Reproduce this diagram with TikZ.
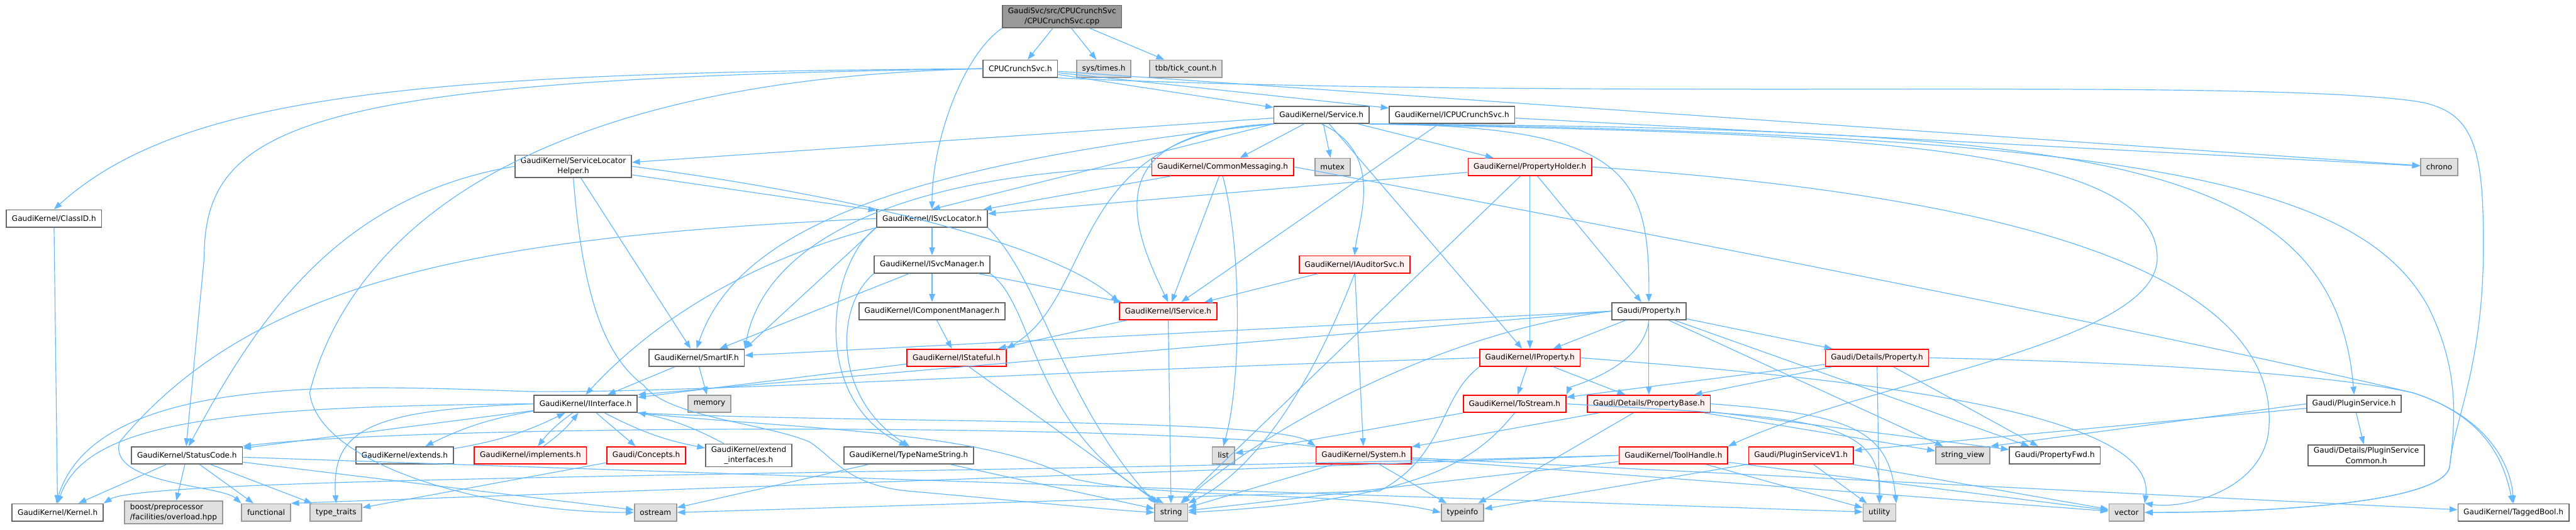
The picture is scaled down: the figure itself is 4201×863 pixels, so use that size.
\documentclass[tikz,border=0pt]{standalone}
\usepackage{fontspec}
\usepackage{xcolor}
\usepackage{tikz}
\usetikzlibrary{arrows.meta}

\newfontfamily\gfont{DejaVu Sans}

\definecolor{inclblue}{HTML}{63B8FF}
\definecolor{rootfill}{HTML}{999999}
\definecolor{darkframe}{HTML}{666666}
\definecolor{extfill}{HTML}{E0E0E0}
\definecolor{extframe}{HTML}{999999}
\definecolor{redfill}{HTML}{FFF0F0}

\tikzset{
  filebox/.style={draw=darkframe, fill=white, line width=0.9pt, minimum height=14pt,
    inner xsep=4.5pt, inner ysep=2pt, align=center, font={\gfont\fontsize{6.2}{8.3}\selectfont}},
  extbox/.style={filebox, draw=extframe, fill=extfill},
  redbox/.style={filebox, draw=red, fill=redfill},
  rootbox/.style={filebox, fill=rootfill},
  incl/.style={draw=inclblue, line width=0.6pt, -{Triangle[length=6.5pt,width=4.8pt]}}
}

\begin{document}
\begin{tikzpicture}[x=0.5pt, y=0.5pt]
  % Canvas
  \fill[white] (0,0) rectangle (4201,-863);
  \useasboundingbox (0,0) rectangle (4201,-863);

  % Source file and first level
  \node[rootbox] (cpp) at (1732,-27) {GaudiSvc/src/CPUCrunchSvc\\/CPUCrunchSvc.cpp};
  \node[filebox] (crunchh) at (1664,-112) {CPUCrunchSvc.h};
  \node[extbox] (times) at (1800,-112) {sys/times.h};
  \node[extbox] (tick) at (1934,-112) {tbb/tick\_count.h};
  \node[filebox] (service) at (2155,-187) {GaudiKernel/Service.h};
  \node[filebox] (icrunch) at (2368,-187) {GaudiKernel/ICPUCrunchSvc.h};

  % Service level
  \node[filebox] (slh) at (935,-271) {GaudiKernel/ServiceLocator\\Helper.h};
  \node[redbox] (common) at (1994,-272) {GaudiKernel/CommonMessaging.h};
  \node[extbox] (mutex) at (2173,-272) {mutex};
  \node[redbox] (pholder) at (2495,-272) {GaudiKernel/PropertyHolder.h};
  \node[extbox] (chrono) at (3978,-272) {chrono};
  \node[filebox] (classid) at (88,-356) {GaudiKernel/ClassID.h};
  \node[filebox] (isvcloc) at (1520,-356) {GaudiKernel/ISvcLocator.h};
  \node[filebox] (isvcmgr) at (1520,-431) {GaudiKernel/ISvcManager.h};
  \node[redbox] (iauditor) at (2209,-431) {GaudiKernel/IAuditorSvc.h};
  \node[filebox] (icompmgr) at (1520,-507) {GaudiKernel/IComponentManager.h};
  \node[redbox] (iservice) at (1905,-507) {GaudiKernel/IService.h};
  \node[filebox] (property) at (2689,-507) {Gaudi/Property.h};

  % Interface level
  \node[filebox] (smartif) at (1136,-583) {GaudiKernel/SmartIF.h};
  \node[redbox] (istateful) at (1560,-583) {GaudiKernel/IStateful.h};
  \node[redbox] (iproperty) at (2495,-583) {GaudiKernel/IProperty.h};
  \node[redbox] (detprop) at (3061,-583) {Gaudi/Details/Property.h};
  \node[filebox] (iinterface) at (955,-658) {GaudiKernel/IInterface.h};
  \node[extbox] (memory) at (1157,-658) {memory};
  \node[redbox] (tostream) at (2470,-658) {GaudiKernel/ToStream.h};
  \node[redbox] (propbase) at (2689,-658) {Gaudi/Details/PropertyBase.h};
  \node[filebox] (pluginsvc) at (3839,-658) {Gaudi/PluginService.h};

  % Lower level
  \node[filebox] (statuscode) at (305,-742) {GaudiKernel/StatusCode.h};
  \node[filebox] (extends) at (660,-742) {GaudiKernel/extends.h};
  \node[redbox] (implements) at (865,-742) {GaudiKernel/implements.h};
  \node[redbox] (concepts) at (1054,-742) {Gaudi/Concepts.h};
  \node[filebox] (extendif) at (1221,-742) {GaudiKernel/extend\\\_interfaces.h};
  \node[filebox] (typename) at (1482,-742) {GaudiKernel/TypeNameString.h};
  \node[extbox] (list) at (1995,-742) {list};
  \node[redbox] (system) at (2224,-742) {GaudiKernel/System.h};
  \node[redbox] (toolhandle) at (2729,-742) {GaudiKernel/ToolHandle.h};
  \node[redbox] (pluginv1) at (2937,-742) {Gaudi/PluginServiceV1.h};
  \node[extbox] (stringview) at (3201,-742) {string\_view};
  \node[filebox] (propfwd) at (3351,-742) {Gaudi/PropertyFwd.h};
  \node[filebox] (plugincommon) at (3859,-742) {Gaudi/Details/PluginService\\Common.h};

  % Leaves
  \node[filebox] (kernel) at (94,-835) {GaudiKernel/Kernel.h};
  \node[extbox, align=left] (boost) at (283,-835) {boost/preprocessor\\/facilities/overload.hpp};
  \node[extbox] (functional) at (434,-835) {functional};
  \node[extbox] (typetraits) at (548,-835) {type\_traits};
  \node[extbox] (ostream) at (1069,-835) {ostream};
  \node[extbox] (string) at (1910,-835) {string};
  \node[extbox] (typeinfo) at (2385,-835) {typeinfo};
  \node[extbox] (utility) at (3065,-835) {utility};
  \node[extbox] (vector) at (3468,-835) {vector};
  \node[filebox] (taggedbool) at (4099,-835) {GaudiKernel/TaggedBool.h};

  % Straight includes
  \foreach \a/\b in {cpp/crunchh, cpp/times, cpp/tick,
      crunchh/service, crunchh/icrunch, crunchh/chrono, icrunch/iservice, icrunch/chrono,
      service/common, service/mutex, service/pholder, service/iproperty, service/slh,
      service.south west/isvcloc.north, slh/isvcloc, slh/smartif, common/isvcloc, common/iservice,
      pholder/iproperty, pholder/property, pholder/isvcloc, pholder/string,
      isvcloc/isvcmgr, isvcloc.south west/smartif.north east,
      isvcmgr/icompmgr, isvcmgr/iservice, isvcmgr/smartif, iauditor/iservice, iauditor/system,
      icompmgr/istateful, iservice/istateful, iservice/string, istateful/iinterface, istateful/string,
      smartif/iinterface, smartif/memory,
      property.west/smartif, property.west/iinterface.north east, property/iproperty, property/detprop,
      property/propbase, property/propfwd, property/stringview,
      iproperty/tostream, iproperty/propbase,
      detprop/tostream, detprop/propbase, detprop/propfwd, detprop/utility, tostream/list,
      propbase/system, propbase/typeinfo, propbase/stringview, propbase/propfwd,
      toolhandle/utility, toolhandle/string, toolhandle/vector, toolhandle.west/functional.north east,
      pluginv1/typeinfo, pluginv1/utility, pluginv1/vector,
      pluginsvc/pluginv1, pluginsvc/plugincommon, pluginsvc.west/stringview.north east,
      system/string, system/typeinfo, system/vector, system/taggedbool,
      statuscode/kernel, statuscode/boost, statuscode/functional, statuscode/typetraits,
      statuscode/ostream, statuscode/utility,
      iinterface/statuscode, iinterface/concepts, concepts/typetraits,
      typename/ostream, typename/string, classid/kernel} {
    \draw[incl] (\a) -- (\b);
  }

  % Mutual includes round IInterface
  \foreach \b in {extends, implements, extendif} {
    \draw[incl] (iinterface) to[bend right=8] (\b);
    \draw[incl] (\b) to[bend right=8] (iinterface);
  }

  % Curved includes, top part
  \draw[incl] (cpp.south west) .. controls (1570,-90) and (1520,-230) .. (isvcloc.north);
  \draw[incl] (crunchh.west) .. controls (700,-118) and (300,-150) .. (classid.north);
  \draw[incl] (crunchh.west) .. controls (500,-128) and (333,-200) .. (333,-420) -- (statuscode.95);
  \draw[incl] (crunchh.west) .. controls (800,-130) and (560,-420) .. (505,-640)
    .. controls (520,-760) and (800,-835) .. (ostream.west);
  \draw[incl] (crunchh.south east) .. controls (2600,-165) and (3650,-125) .. (3940,-165)
    .. controls (4035,-180) and (4050,-240) .. (4050,-400)
    .. controls (4050,-600) and (4000,-690) .. (3995,-760)
    .. controls (3985,-820) and (3700,-835) .. (vector.east);
  \draw[incl] (service.south east) .. controls (3500,-218) and (3850,-300) .. (3960,-500)
    .. controls (4010,-600) and (4005,-680) .. (3995,-760)
    .. controls (3985,-820) and (3700,-835) .. (vector.east);
  \draw[incl] (service.south east) .. controls (3400,-210) and (3806,-250) .. (pluginsvc.north);
  \draw[incl] (service.south east) .. controls (2900,-218) and (3518,-220) .. (3518,-420)
    .. controls (3518,-560) and (3050,-620) .. (toolhandle.north east);
  \draw[incl] (service.south east) .. controls (2650,-205) and (2690,-280) .. (property.north);
  \draw[incl] (service.south) .. controls (2260,-250) and (2215,-360) .. (iauditor.north);
  \draw[incl] (service.south west) .. controls (1800,-215) and (1835,-350) .. (iservice.north);
  \draw[incl] (service.south west) .. controls (1740,-215) and (1790,-480) .. (istateful.north east);
  \draw[incl] (service.south west) .. controls (1450,-270) and (1200,-380) .. (smartif.north);

  % Curved includes, middle part
  \draw[incl] (slh.east) .. controls (1400,-320) and (1720,-400) .. (iservice.north west);
  \draw[incl] (slh.west) .. controls (550,-320) and (420,-520) .. (statuscode.80);
  \draw[incl] (slh.south) .. controls (950,-480) and (985,-580) .. (1050,-628)
    .. controls (1090,-680) and (1250,-690) .. (1320,-720)
    .. controls (1360,-745) and (1380,-790) .. (1480,-800)
    .. controls (1650,-815) and (1800,-830) .. (string.west);
  \draw[incl] (common.west) .. controls (1500,-280) and (1250,-380) .. (smartif.north east);
  \draw[incl] (common.south) .. controls (2025,-400) and (2025,-620) .. (list.north);
  \draw[incl] (common.east) .. controls (2800,-400) and (3600,-560) .. (3935,-640)
    .. controls (4060,-680) and (4095,-760) .. (taggedbool.north);
  \draw[incl] (detprop.east) .. controls (3500,-590) and (3800,-610) .. (3935,-640)
    .. controls (4060,-680) and (4085,-760) .. (taggedbool.95);
  \draw[incl] (pholder.east) .. controls (3300,-320) and (3720,-450) .. (3700,-700)
    .. controls (3690,-800) and (3560,-830) .. (vector.north east);
  \draw[incl] (isvcloc.south west) .. controls (1200,-430) and (1050,-540) .. (iinterface.north);
  \draw[incl] (isvcloc.south west) .. controls (1350,-430) and (1320,-650) .. (typename.100);
  \draw[incl] (isvcmgr.south west) .. controls (1360,-500) and (1360,-650) .. (typename.85);
  \draw[incl] (isvcloc.south east) .. controls (1700,-460) and (1730,-650) .. (string.150);
  \draw[incl] (isvcmgr.south east) .. controls (1690,-500) and (1680,-700) .. (string.130);
  \draw[incl] (isvcloc.west) .. controls (800,-385) and (420,-450) .. (195,-720)
    .. controls (175,-790) and (360,-790) .. (functional.north west);
  \draw[incl] (iauditor.south) .. controls (2150,-600) and (2060,-760) .. (string.north east);
  \draw[incl] (property.west) .. controls (2350,-540) and (2060,-700) .. (string.40);
  \draw[incl] (property.south) .. controls (2680,-600) and (2560,-630) .. (tostream.north east);

  % Curved includes, lower part
  \draw[incl] (iproperty.south west) .. controls (2345,-650) and (2360,-740) .. (2250,-800)
    -- (ostream.east);
  \draw[incl] (iproperty.east) .. controls (2950,-612) and (3520,-660) .. (vector.north east);
  \draw[incl] (iproperty.west) .. controls (1700,-605) and (1150,-640) .. (870,-638)
    .. controls (600,-630) and (160,-600) .. (kernel.100);
  \draw[incl] (tostream.south) .. controls (2400,-760) and (2300,-815) .. (string.east);
  \draw[incl] (tostream.east) .. controls (2950,-680) and (3070,-680) .. (utility.north);
  \draw[incl] (propbase.east) .. controls (3020,-675) and (3080,-700) .. (utility.north east);
  \draw[incl] (toolhandle.west) .. controls (1500,-775) and (240,-775) .. (kernel.north east);
  \draw[incl] (system.170) .. controls (1900,-690) and (700,-690) .. (statuscode.north east);
  \draw[incl] (iinterface.west) .. controls (350,-662) and (140,-690) .. (kernel.north);
  \draw[incl] (iinterface.west) .. controls (600,-668) and (540,-700) .. (typetraits.north);
  \draw[incl] (iinterface.south east) .. controls (1400,-690) and (2080,-680) .. (system.north west);
  \draw[incl] (iinterface.south east) .. controls (1300,-700) and (1600,-700) .. (1750,-780)
    .. controls (1900,-815) and (2200,-800) .. (typeinfo.west);

\end{tikzpicture}
\end{document}
